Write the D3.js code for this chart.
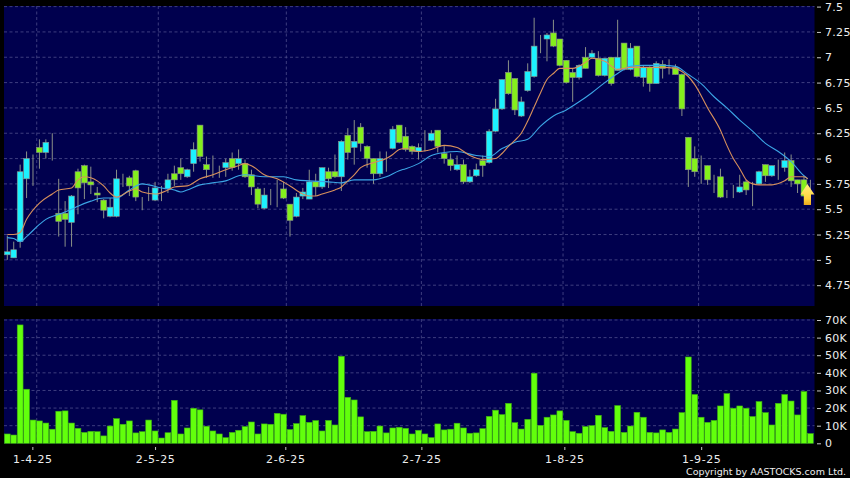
<!DOCTYPE html>
<html><head><meta charset="utf-8">
<script src="https://cdn.jsdelivr.net/npm/d3@7"></script>
<style>html,body{margin:0;padding:0;background:#000}svg{display:block}</style>
</head><body><svg id="c" width="850" height="478"></svg>
<script>
const high=[5.24,5.18,5.94,6.07,6.04,6.19,6.19,6.25,5.8,5.58,5.64,5.9,5.94,5.92,5.72,5.6,5.61,5.89,5.85,5.83,5.89,5.62,5.72,5.77,5.73,5.85,5.93,6.0,5.9,6.16,6.33,6.02,6.03,5.93,6.0,6.06,6.09,5.99,5.89,5.72,5.71,5.7,5.79,5.77,5.55,5.66,5.71,5.89,5.85,5.91,5.91,6.04,6.18,6.3,6.38,6.35,6.13,6.0,6.07,6.07,6.32,6.33,6.31,6.13,6.15,6.28,6.28,6.28,6.13,6.05,6.03,5.99,5.89,5.95,6.03,6.29,6.59,6.78,6.97,6.79,6.61,6.94,7.39,7.22,7.24,7.37,7.18,6.97,6.89,6.93,7.1,7.07,7.06,6.99,7.0,7.37,7.14,7.14,7.11,6.92,6.91,6.96,6.97,6.98,6.93,6.84,6.21,6.12,6.03,5.93,5.84,5.9,5.69,5.74,5.84,5.79,5.77,5.88,5.94,5.93,5.99,6.06,6.04,5.79,5.82,5.79];
const low=[5.0,5.02,5.12,5.61,5.73,5.9,6.0,5.98,5.23,5.13,5.13,5.45,5.6,5.65,5.57,5.41,5.42,5.42,5.72,5.63,5.58,5.49,5.58,5.58,5.58,5.66,5.73,5.79,5.81,5.87,5.97,5.81,5.81,5.81,5.82,5.88,5.89,5.81,5.64,5.51,5.5,5.54,5.52,5.6,5.23,5.42,5.6,5.6,5.63,5.7,5.71,5.81,5.68,5.99,5.94,6.07,5.91,5.75,5.82,5.87,6.09,6.15,6.07,6.04,5.99,6.07,6.17,6.06,5.95,5.88,5.88,5.75,5.76,5.82,5.82,5.95,6.26,6.48,6.63,6.43,6.41,6.66,6.8,7.04,6.96,7.1,6.91,6.74,6.56,6.78,6.89,6.99,6.81,6.81,6.72,6.87,6.87,6.87,6.8,6.71,6.66,6.74,6.79,6.83,6.83,6.42,5.72,5.82,5.75,5.74,5.66,5.61,5.61,5.61,5.66,5.64,5.53,5.74,5.77,5.82,5.79,5.87,5.72,5.66,5.63,5.56];
const open=[5.05,5.02,5.18,5.8,5.96,6.11,6.06,6.08,5.46,5.46,5.37,5.87,5.93,5.77,5.66,5.59,5.43,5.43,5.82,5.81,5.88,5.62,5.66,5.59,5.71,5.7,5.85,5.91,5.82,5.95,6.33,5.94,5.9,5.92,5.91,6.0,5.95,5.95,5.84,5.7,5.51,5.64,5.71,5.7,5.55,5.43,5.63,5.6,5.77,5.72,5.87,5.87,5.82,6.23,6.11,6.31,6.12,6.0,5.85,6.07,6.1,6.33,6.22,6.12,6.07,6.18,6.18,6.28,6.05,5.99,5.89,5.94,5.77,5.83,5.98,5.96,6.27,6.49,6.85,6.79,6.42,6.67,6.81,7.19,7.18,7.24,7.18,6.97,6.85,6.8,7.0,7.0,6.99,6.82,7.0,6.87,7.14,6.88,7.11,6.8,6.9,6.74,6.93,6.91,6.9,6.83,6.21,6.0,5.89,5.93,5.78,5.82,5.67,5.7,5.67,5.77,5.69,5.75,5.94,5.83,5.89,5.91,5.98,5.79,5.79,5.72];
const close=[5.08,5.10,5.87,6.0,5.96,6.06,6.16,6.08,5.38,5.4,5.63,5.71,5.76,5.74,5.64,5.49,5.52,5.8,5.82,5.73,5.62,5.62,5.66,5.71,5.71,5.79,5.79,5.85,5.89,6.09,6.02,5.89,5.9,5.92,5.96,5.91,6.0,5.82,5.72,5.55,5.64,5.64,5.71,5.61,5.39,5.62,5.67,5.77,5.72,5.91,5.8,5.82,6.17,6.06,6.17,6.15,6.0,5.85,6.0,6.07,6.29,6.16,6.09,6.07,6.11,6.18,6.25,6.12,6.0,5.93,5.94,5.77,5.82,5.89,5.93,6.27,6.49,6.78,6.64,6.48,6.56,6.86,7.11,7.19,7.22,7.11,6.92,6.75,6.8,6.92,6.89,7.04,6.82,6.99,6.74,7.0,6.88,7.09,6.81,6.9,6.74,6.94,6.89,6.91,6.83,6.49,5.89,5.87,5.89,5.79,5.78,5.62,5.67,5.7,5.72,5.69,5.69,5.87,5.83,5.93,5.89,5.98,5.78,5.75,5.63,5.72];
const volume=[5.3,4.7,67.2,30.7,13.2,12.7,11.5,8,18.2,18.4,11.5,8.5,6.2,6.8,6.6,4.2,9.8,14,10.8,12.7,5.9,6.6,13.2,7,3,6,24.4,5.3,8.7,19.9,19,9.7,7,5.3,3.2,6.2,7.4,9.5,12.1,5.3,11,10.8,17,16.5,7.8,11.2,15.7,11.9,12.9,7,13,10.4,49.4,26.1,24.6,15,6.6,6.8,9.8,5.9,8.7,9.1,8.5,5.3,7.4,5.3,3.2,11,7.6,8,11.4,8.7,5.7,5.9,8.3,15.3,18.8,16.3,22.7,11.7,8.1,13.6,39.8,10.2,14.8,16.1,18.4,13,6.6,5.7,9.5,10,15.9,8.9,6.8,21.4,6.2,9.8,17.6,14.8,6.2,5.9,7.6,6.2,8.1,17.4,49,27.7,14.8,11.9,13,21.2,28.2,19.9,21.2,19.9,15.2,23.7,17.4,10.4,22.7,27.7,24,16.1,29.4,5.5];
const maFastIdx=[0,1,2,3,5,7,8,10,11,12,14,15,16,17,19,20,21,23,25,26,28,30,32,34,36,37,38,40,42,44,46,47,48,49,51,52,53,54,55,57,59,60,61,62,64,66,68,70,72,74,76,77,78,79,80,81,82,83,84,85,86,88,90,91,93,95,97,99,102,104,105,106,107,109,111,112,113,114,115,116,117,119,121,122,124,124.6];
const maFast=[5.25,5.25,5.27,5.4,5.56,5.65,5.69,5.71,5.79,5.82,5.78,5.73,5.66,5.62,5.68,5.7,5.67,5.65,5.69,5.72,5.73,5.8,5.84,5.89,5.93,5.95,5.93,5.84,5.8,5.73,5.65,5.63,5.63,5.65,5.69,5.72,5.78,5.84,5.91,5.96,6.0,6.04,6.09,6.1,6.07,6.09,6.13,6.11,6.03,5.99,6.0,6.05,6.12,6.18,6.25,6.37,6.51,6.65,6.78,6.84,6.89,6.89,6.95,6.99,6.96,6.88,6.9,6.9,6.9,6.89,6.86,6.81,6.73,6.5,6.28,6.13,6.0,5.9,5.79,5.75,5.74,5.74,5.78,5.82,5.82,5.8];
const maSlowIdx=[0,1,2,3,5,6,8,10,11,13,15,17,19,21,22,24,26,27,28,30,32,34,36,37,40,43,45,47,50,52,54,57,59,61,62,64,66,68,70,73,75,77,78,79,81,83,85,87,89,91,93,95,97,99,102,104,106,108,110,112,114,116,118,120,122,124,124.6];
const maSlow=[5.22,5.21,5.18,5.23,5.35,5.4,5.45,5.5,5.53,5.58,5.61,5.61,5.69,5.75,5.74,5.71,5.69,5.67,5.69,5.74,5.76,5.78,5.83,5.84,5.82,5.82,5.79,5.78,5.77,5.76,5.79,5.79,5.82,5.88,5.9,5.95,6.03,6.06,6.07,6.03,6.02,6.1,6.13,6.16,6.19,6.32,6.42,6.48,6.56,6.65,6.75,6.84,6.91,6.92,6.92,6.91,6.83,6.74,6.61,6.5,6.38,6.27,6.15,6.07,5.97,5.83,5.8];
const priceTicks=[7.5,7.25,7,6.75,6.5,6.25,6,5.75,5.5,5.25,5,4.75];
const volumeTicks=[0,10,20,30,40,50,60,70];
const dateLabels=["1-4-25","2-5-25","2-6-25","2-7-25","1-8-25","1-9-25"];
const dateTickIdx=[3.9,23,43.27,64.45,86.7,108];
const dateGridIdx=[4.58,23.5,43.43,64.45,86.5,107.6];
const lastSignalIdx=125;

const UP="#1cf2ff",DOWN="#84f01c",EDGE="#8a9088",PANEL="#00004e",GRID="#4c4c8c";
const FONT='"DejaVu Sans",sans-serif';
const svg=d3.select("#c");
svg.append("rect").attr("width",850).attr("height",478).attr("fill","#000");

const x=d3.scaleLinear().domain([0,125]).range([7.3,810.4]);
const y=d3.scaleLinear().domain([7.5,4.75]).range([6.6,285.2]);
const v=d3.scaleLinear().domain([0,70]).range([443.3,320]);
const L=4,R=814.5;
const topP={t:6,b:306},botP={t:319,b:443.5};

[topP,botP].forEach(p=>svg.append("rect").attr("x",L).attr("y",p.t).attr("width",R-L).attr("height",p.b-p.t).attr("fill",PANEL));

function drawGrid(ys,p,sc){
  const g=svg.append("g").attr("stroke",GRID).attr("stroke-width",0.8).attr("stroke-dasharray","3,2.5");
  g.append("g").selectAll("line").data(ys).join("line").attr("x1",L).attr("x2",R).attr("y1",d=>sc(d)).attr("y2",d=>sc(d));
  g.append("g").selectAll("line").data(dateGridIdx).join("line").attr("x1",d=>x(d)).attr("x2",d=>x(d)).attr("y1",p.t).attr("y2",p.b);
}
drawGrid(priceTicks,topP,y);
drawGrid(volumeTicks.slice(1),botP,v);

// volume
svg.append("g").selectAll("rect").data(volume).join("rect")
  .attr("x",(d,i)=>x(i)-2.9).attr("width",5.8)
  .attr("y",d=>v(d)).attr("height",d=>v(0)-v(d))
  .attr("fill","#62ff0c").attr("stroke","#3cae12").attr("stroke-width",0.6);

// candles
const idx=d3.range(high.length);
const cg=svg.append("g");
cg.selectAll("line").data(idx).join("line")
  .attr("x1",i=>x(i)).attr("x2",i=>x(i)).attr("y1",i=>y(high[i])).attr("y2",i=>y(low[i]))
  .attr("stroke",EDGE).attr("stroke-width",1);
cg.selectAll("rect").data(idx).join("rect")
  .attr("x",i=>x(i)-2.9).attr("width",5.8)
  .attr("y",i=>y(Math.max(open[i],close[i])))
  .attr("height",i=>Math.abs(y(open[i])-y(close[i])))
  .attr("fill",i=>close[i]>open[i]?UP:close[i]<open[i]?DOWN:EDGE)
  .attr("stroke",EDGE).attr("stroke-width",0.6);

// moving averages
const line=d3.line().x(d=>x(d[0])).y(d=>y(d[1])).curve(d3.curveMonotoneX);
svg.append("path").attr("d",line(d3.zip(maSlowIdx,maSlow))).attr("fill","none").attr("stroke","#3ca6e6").attr("stroke-width",1.1);
svg.append("path").attr("d",line(d3.zip(maFastIdx,maFast))).attr("fill","none").attr("stroke","#d8905c").attr("stroke-width",1.1);

// signal arrow
const defs=svg.append("defs");
const lg=defs.append("linearGradient").attr("id","arrow").attr("x1",0).attr("y1",0).attr("x2",0).attr("y2",1);
lg.append("stop").attr("offset","0").attr("stop-color","#fff080");
lg.append("stop").attr("offset","0.7").attr("stop-color","#ffd23c");
lg.append("stop").attr("offset","1").attr("stop-color","#eaa81c");
const ax=x(lastSignalIdx)-3;
svg.append("path")
  .attr("d",`M${ax},184 L${ax+7},194.5 L${ax+3.6},194.5 L${ax+3.6},205 L${ax-3.6},205 L${ax-3.6},194.5 L${ax-7},194.5 Z`)
  .attr("fill","url(#arrow)");

// axes
function styleAxis(g){
  g.select(".domain").remove();
  g.selectAll(".tick line").attr("stroke","#c8c8c8");
  g.selectAll(".tick text").attr("fill","#eee").attr("font-family",FONT).attr("font-size",11).attr("letter-spacing",0.3);
}
svg.append("g").attr("transform","translate(817,0)")
  .call(d3.axisRight(y).tickValues(priceTicks).tickFormat(d=>String(d)).tickSize(4).tickPadding(4)).call(styleAxis);
svg.append("g").attr("transform","translate(817,0)")
  .call(d3.axisRight(v).tickValues(volumeTicks).tickFormat(d=>d===0?"0":d+"K").tickSize(4).tickPadding(4)).call(styleAxis);
svg.append("g").attr("transform","translate(0,447)")
  .call(d3.axisBottom(x).tickValues(dateTickIdx).tickFormat((d,i)=>dateLabels[i]).tickSize(3).tickPadding(5)).call(g=>{styleAxis(g);g.selectAll(".tick text").attr("letter-spacing",0.6);});

svg.append("text").attr("x",846).attr("y",475).attr("text-anchor","end")
  .attr("fill","#eee").attr("font-family",FONT).attr("font-size",9.5).text("Copyright by AASTOCKS.com Ltd.");
</script></body></html>
